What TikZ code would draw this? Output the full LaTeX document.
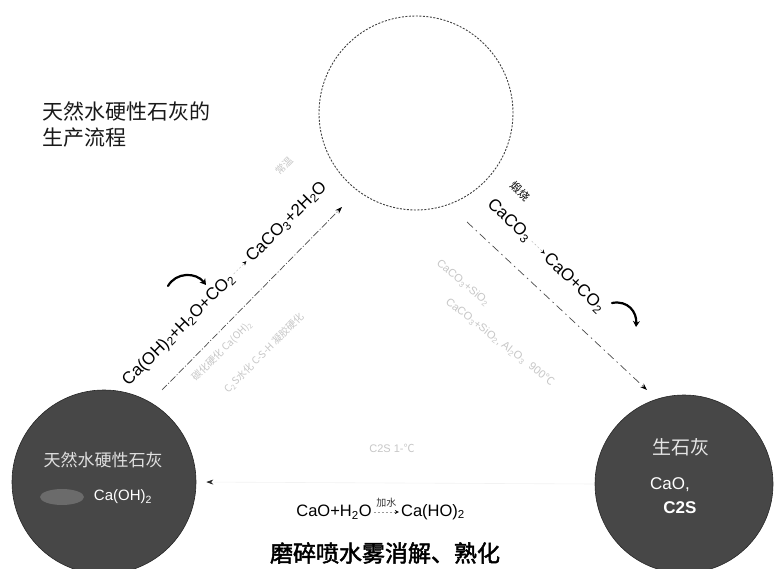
\documentclass[tikz,border=0pt]{standalone}
\usepackage{fontspec}
\setmainfont{Liberation Sans}
\newfontfamily\cjk{Noto Sans CJK SC}
\newfontfamily\cjkb[FakeBold=2]{Noto Sans CJK SC}
\usetikzlibrary{arrows.meta}
\newcommand\ssb[1]{\textsubscript{#1}}
\newcommand\rxarrow{\tikz[baseline=-0.6ex]\draw[black!30, dash pattern=on 2pt off 2pt, -{Stealth[length=4pt,width=4pt,black]}] (0pt,0pt)--(18pt,0pt);}
\begin{document}
\begin{tikzpicture}[x=1pt,y=-1pt,
  darkc/.style={circle, fill=black!72, draw=black!85, line width=0.6pt, minimum size=#1, inner sep=0pt},
  flow/.style={draw=black!70, line width=0.7pt, -{Stealth[length=7pt,width=5pt,black]}},
  faint/.style={text=black!22, font=\cjk\fontsize{10}{10}\selectfont, inner sep=0pt},
  formula/.style={font=\fontsize{17}{17}\selectfont, inner sep=0pt},
  curl/.style={line width=2.2pt, -{Stealth[length=6pt,width=7pt]}, line cap=round},
  ]
\useasboundingbox (0,0) rectangle (784,569);
\clip (0,0) rectangle (784,569);
\fill[white] (0,0) rectangle (784,569);

% circles
\node[circle, draw=black!75, dash pattern=on 2pt off 1.5pt, line width=0.9pt, minimum size=194pt, inner sep=0pt] (T) at (416,113) {};
\node[darkc=184pt] (L) at (104,482) {};
\node[darkc=178pt] (R) at (684,484) {};

% title
\node[anchor=west, font=\cjk\fontsize{21}{26}\selectfont, align=left, text=black!90, inner sep=0pt] (title) at (42,125) {天然水硬性石灰的\\生产流程};

% circle texts
\node[font=\cjk\fontsize{17}{17}\selectfont, text=white!88!black] (Lt1) at (103,460) {天然水硬性石灰};
\fill[black!58] (62,497) ellipse (22pt and 8pt);
\node[font=\fontsize{15}{15}\selectfont, text=white] (Lt2) at (123,497) {Ca(OH)\ssb{2}};
\node[font=\cjk\fontsize{19}{19}\selectfont, text=white!90!black] (Rt1) at (681,447) {生石灰};
\node[font=\fontsize{17}{17}\selectfont, text=white] (Rt2) at (670,485) {CaO,};
\node[font=\bfseries\fontsize{17}{17}\selectfont, text=white] (Rt3) at (680,508) {C2S};

% left arrow (carbonation)
\coordinate (la) at (162,390);
\coordinate (lb) at (342,207);
\draw[flow, dash pattern=on 7pt off 2pt on 1pt off 2pt] (la) -- (lb);
\node[formula, rotate=45] (lf) at (225,284) {Ca(OH)\ssb{2}+H\ssb{2}O+CO\ssb{2}\,\rxarrow\,CaCO\ssb{3}+2H\ssb{2}O};
\draw[curl] (168,286) .. controls (176,272) and (196,272) .. (206,285);
\node[faint, rotate=45] (lsm) at (284,166) {常温};
\node[faint, rotate=45] (lf1) at (222,351) {碳化硬化 Ca(OH)\ssb{2}};
\node[faint, rotate=45] (lf2) at (264,353) {C\ssb{2}S水化 C-S-H 凝胶硬化};

% right arrow (calcination)
\coordinate (ra) at (467,222);
\coordinate (rb) at (647,390);
\draw[flow, dash pattern=on 8pt off 4pt on 1.5pt off 4pt] (ra) -- (rb);
\node[formula, rotate=-44] (rf) at (546,256) {CaCO\ssb{3}\,\rxarrow\,CaO+CO\ssb{2}};
\node[font=\cjk\fontsize{11}{11}\selectfont, rotate=-44, inner sep=0pt] (rl) at (520,191) {煅烧};
\draw[curl] (612,303) .. controls (628,300) and (637,312) .. (636,327);
\node[faint, rotate=-40, font=\fontsize{11}{11}\selectfont] (rf1) at (463,283) {CaCO\ssb{3}+SiO\ssb{2}};
\node[faint, rotate=-38, font=\fontsize{11}{11}\selectfont] (rf2) at (500,342) {CaCO\ssb{3}+SiO\ssb{2}, Al\ssb{2}O\ssb{3} ~900{\cjk ℃}};

% bottom arrow (slaking)
\draw[draw=black!5, line width=0.6pt, shorten >=10pt, -{Stealth[length=7pt,width=5pt,black!85]}] (R.west) -- (L.east);
\node[faint, font=\fontsize{11}{11}\selectfont] (bf) at (392,448) {C2S 1-{\cjk ℃}};
\node[formula, font=\fontsize{16.5}{16.5}\selectfont] (b1) at (334,512) {CaO+H\ssb{2}O};
\node[formula, font=\fontsize{16.5}{16.5}\selectfont] (b2) at (433,512) {Ca(HO)\ssb{2}};
\draw[black!40, dash pattern=on 2pt off 2pt, shorten <=2pt, shorten >=2pt, -{Stealth[length=4pt,width=4pt,black]}] (b1) -- (b2) node[midway, above=1pt, font=\cjk\fontsize{10}{10}\selectfont, text=black!80] {加水};
\node[font=\cjkb\fontsize{23}{23}\selectfont] (bt) at (385,553) {磨碎喷水雾消解、熟化};
\end{tikzpicture}
\end{document}
